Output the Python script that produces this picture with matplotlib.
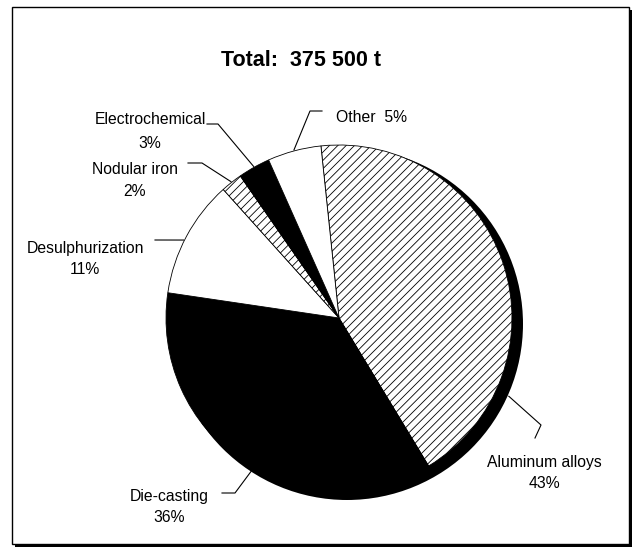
import numpy as np
import matplotlib.pyplot as plt
from matplotlib.patches import Circle, Rectangle

plt.rcParams['font.family'] = ['Liberation Sans', 'DejaVu Sans']
plt.rcParams['hatch.linewidth'] = 0.6

# data
labels = ['Aluminum alloys', 'Die-casting', 'Desulphurization',
          'Nodular iron', 'Electrochemical', 'Other']
shares = [43, 36, 11, 2, 3, 5]
pct_text = ['43%', '36%', '11%', '2%', '3%', '5%']
colors = ['white', 'black', 'white', 'white', 'black', 'white']
hatches = ['////', None, None, '////', None, None]
title = 'Total:  375 500 t'

# layout (pixel coords, y measured from the top of the image)
W, H = 632, 548
pie_c = (339, 318)
pie_r = 173
shadow_off = (8, 6)
shadow_grow = 3
# where along each wedge the leader starts (fraction of wedge angle), radial pad
anchor_frac = [0.22, 0.53, 0.54, 0.5, 0.5, 0.5]
anchor_pad = [14, 1, 1, 1, 1, 1]
# leader elbows after the anchor point
elbows = [[(541, 425), (535, 438)],
          [(235, 493), (222, 493)],
          [(155, 240)],
          [(202, 163), (188, 163)],
          [(218, 124), (207, 124)],
          [(310, 111), (322, 111)]]
# text centres: name line, percent line
name_pos = [(544, 462), (169, 497), (85, 248), (135, 170), (150, 120), (371, 118)]
pct_pos = [(544, 484), (169, 518), (85, 270), (135, 192), (150, 143), None]


def px(x, y):
    return x, H - y


fig = plt.figure(figsize=(W / 100, H / 100), dpi=100)
ax = fig.add_axes([0, 0, 1, 1])

# frame with drop shadow
ax.add_patch(Rectangle(px(15, 547), 617, 537, facecolor='black', lw=0, zorder=0))
ax.add_patch(Rectangle(px(12, 544), 617, 537, facecolor='white',
                       edgecolor='black', lw=1, zorder=0.5))

cx, cy = px(*pie_c)
ax.add_patch(Circle((cx + shadow_off[0], cy - shadow_off[1]), pie_r + shadow_grow,
                    facecolor='black', lw=0, zorder=1))

wedges, _ = ax.pie(shares, colors=colors, startangle=96, counterclock=False,
                   radius=pie_r, center=(cx, cy), frame=True,
                   wedgeprops=dict(edgecolor='black', linewidth=0.6, zorder=2))
for w, h in zip(wedges, hatches):
    w.set_zorder(2)
    if h:
        w.set_hatch(h)

for i, w in enumerate(wedges):
    th = np.deg2rad(w.theta1 + anchor_frac[i] * (w.theta2 - w.theta1))
    rr = pie_r + anchor_pad[i]
    xs = [cx + rr * np.cos(th)] + [px(*p)[0] for p in elbows[i]]
    ys = [cy + rr * np.sin(th)] + [px(*p)[1] for p in elbows[i]]
    ax.plot(xs, ys, color='black', lw=0.8, zorder=3)
    if pct_pos[i] is None:
        ax.text(*px(*name_pos[i]), labels[i] + '  ' + pct_text[i],
                ha='center', va='center', fontsize=11.3)
    else:
        ax.text(*px(*name_pos[i]), labels[i], ha='center', va='center', fontsize=11.3)
        ax.text(*px(*pct_pos[i]), pct_text[i], ha='center', va='center', fontsize=11.3)

ax.text(*px(301, 60), title, ha='center', va='center', fontsize=15.5,
        fontweight='bold')

ax.set_xlim(0, W)
ax.set_ylim(0, H)
ax.axis('off')
fig.savefig('out.png', dpi=100)
